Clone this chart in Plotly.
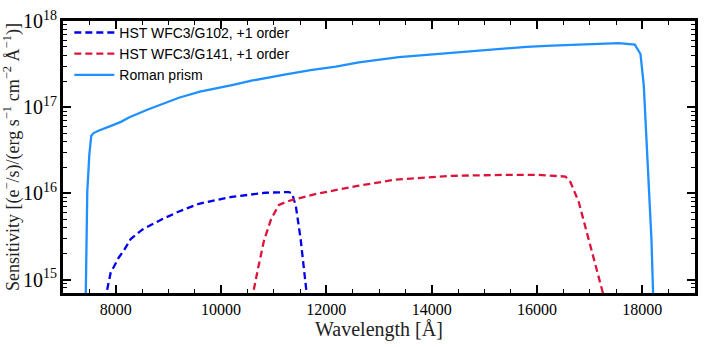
import plotly.graph_objects as go

# Wavelength [Angstrom] and log10 sensitivity
roman_wave = [7400, 7435, 7461, 7500, 7537, 7580, 7683, 7900, 8100, 8252, 8310,
              8600, 9201, 9600, 10208, 10600, 11233, 11700, 12182, 12618, 13377,
              14326, 15143, 15800, 16282, 16900, 17553, 17857, 17965, 18027,
              18065, 18173, 18204, 18230]
roman_log = [13.5, 14.85, 16.02, 16.45, 16.67, 16.70, 16.73, 16.78, 16.83, 16.88,
             16.895, 16.97, 17.11, 17.18, 17.256, 17.31, 17.38, 17.43, 17.47, 17.52,
             17.58, 17.63, 17.673, 17.70, 17.715, 17.73, 17.744, 17.726, 17.617,
             17.256, 16.83, 15.47, 14.85, 13.5]

g102_wave = [7800, 7841, 7905, 7990, 8063, 8158, 8285, 8505, 8879, 9201, 9581,
             10207, 10847, 11289, 11352, 11422, 11511, 11625, 11660]
g102_log = [14.5, 14.89, 15.08, 15.17, 15.26, 15.34, 15.47, 15.58, 15.70, 15.79,
            15.88, 15.96, 16.008, 16.016, 15.997, 15.85, 15.475, 14.85, 14.5]

g141_wave = [10580, 10612, 10700, 10815, 10950, 11100, 11227, 11384, 11826, 12111,
             12618, 13315, 14389, 15338, 16034, 16541, 16636, 16793, 16983, 17249,
             17290]
g141_log = [14.5, 14.85, 15.12, 15.45, 15.70, 15.866, 15.90, 15.93, 15.997, 16.03,
            16.09, 16.16, 16.204, 16.215, 16.215, 16.196, 16.13, 15.90, 15.47,
            14.85, 14.5]

series = [
    ("HST WFC3/G102, +1 order", g102_wave, g102_log, "#0000ee", "7px,4px"),
    ("HST WFC3/G141, +1 order", g141_wave, g141_log, "#dc143c", "7px,4px"),
    ("Roman prism", roman_wave, roman_log, "#1e90ff", "solid"),
]

SERIF = "Liberation Serif, DejaVu Serif, serif"
SANS = "Liberation Sans, DejaVu Sans, sans-serif"

fig = go.Figure()
for name, wave, logs, color, dash in series:
    fig.add_trace(go.Scatter(
        x=wave, y=[10 ** v for v in logs], name=name, mode="lines",
        line=dict(color=color, width=2.3, dash=dash),
    ))

axis_common = dict(
    showline=True, linecolor="black", linewidth=2.5, mirror="allticks",
    ticks="inside", ticklen=8, tickwidth=1.8, tickcolor="black",
    showgrid=False, zeroline=False,
    tickfont=dict(family=SERIF, size=16, color="black"),
)

fig.update_xaxes(
    range=[7000, 19000], dtick=2000, tick0=0, tickformat="d",
    minor=dict(dtick=500, ticks="inside", ticklen=4, tickwidth=1.3, tickcolor="black"),
    title=dict(text="Wavelength [Å]", font=dict(family=SERIF, size=20, color="#222"),
               standoff=4),
    **axis_common,
)
fig.update_yaxes(
    type="log", range=[14.845, 18.0], dtick=1, exponentformat="power",
    minor=dict(dtick="D1", ticks="inside", ticklen=4, tickwidth=1.3, tickcolor="black"),
    title=dict(text="Sensitivity [(e<sup>−</sup>/s)/(erg s<sup>−1</sup> cm<sup>−2</sup> Å<sup>−1</sup>)]",
               font=dict(family=SERIF, size=18, color="#222"), standoff=2),
    **axis_common,
)

fig.update_layout(
    width=706, height=347,
    margin=dict(l=63, r=8, t=14, b=54),
    paper_bgcolor="white", plot_bgcolor="white",
    showlegend=True,
    legend=dict(x=0.01, y=1.015, xanchor="left", yanchor="top",
                bgcolor="rgba(255,255,255,0)", borderwidth=0,
                font=dict(family=SANS, size=14, color="black"),
                itemwidth=40, tracegroupgap=0),
)

# drop the page's default body margin so the figure sits at the window origin
fig.write_html("out.html", config={"displayModeBar": False},
               post_script="document.body.style.margin='0';")
